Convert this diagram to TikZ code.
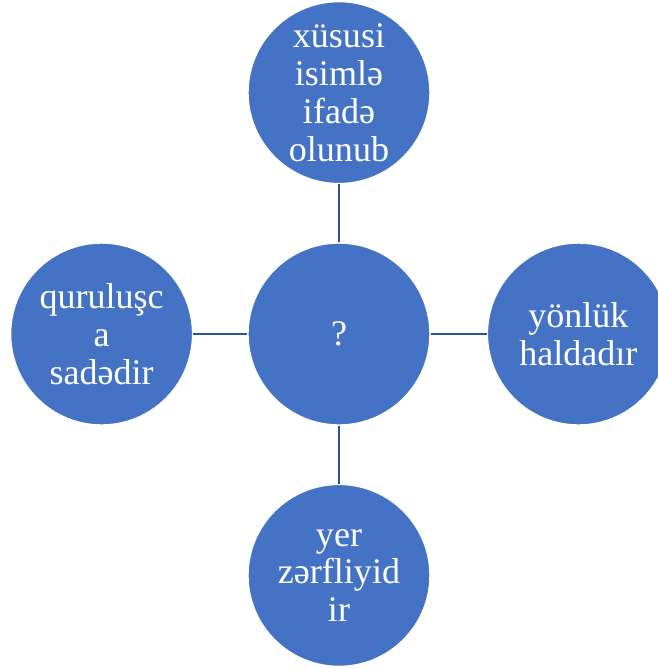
\documentclass[tikz,border=0pt]{standalone}
\usepackage{fontspec}
\setmainfont{Liberation Serif}
\usepackage{xcolor}
\usetikzlibrary{positioning}
\definecolor{ballblue}{HTML}{4472C4}
\definecolor{linkblue}{HTML}{2F528F}

\begin{document}
\begin{tikzpicture}[node distance=1.16cm, every node/.style={circle, fill=ballblue, draw=white, line width=0.8pt, minimum size=3.64cm, inner sep=0pt, align=center, text=white, font=\fontsize{20.5}{21.5}\selectfont}]
                \useasboundingbox (-6.78,-6.70) rectangle (6.38,6.68);
                \node (mid) at (0,0) {?};
                \node (top) [above=of mid] {xüsusi\\isimlə\\ifadə\\olunub};
                \node (left) [left=1.08cm of mid] {quruluşc\\a\\sadədir};
                \node (right) [right=1.12cm of mid] {yönlük\\haldadır};
                \node (bottom) [below=of mid] {yer\\zərfliyid\\ir};
                
                \draw[line width=1.4pt, draw=linkblue] (mid) -- (top);
                \draw[line width=1.4pt, draw=linkblue] (mid) -- (left);
                \draw[line width=1.4pt, draw=linkblue] (mid) -- (right);
                \draw[line width=1.4pt, draw=linkblue] (mid) -- (bottom);
            \end{tikzpicture}
\end{document}
